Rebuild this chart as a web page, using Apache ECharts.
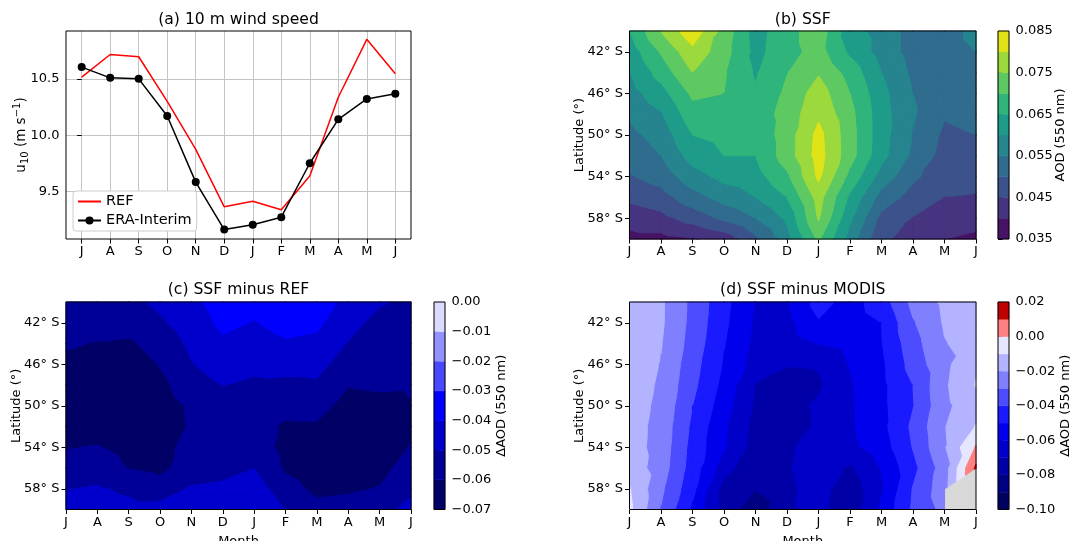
<!DOCTYPE html>
<html><head><meta charset="utf-8">
<script src="https://cdn.jsdelivr.net/npm/echarts@6/dist/echarts.min.js"></script>
<style>html,body{margin:0;padding:0;background:#fff}#c{width:1070px;height:541px}</style>
</head><body><div id="c"></div>
<script>
// ---------------- data ----------------
const months = ['J','A','S','O','N','D','J','F','M','A','M','J'];
const monthIdx = [0,1,2,3,4,5,6,7,8,9,10,11];
const refWind = [10.515,10.716,10.696,10.30,9.875,9.366,9.416,9.34,9.639,10.337,10.85,10.545];
const eraWind = [10.604,10.509,10.50,10.171,9.585,9.165,9.207,9.274,9.752,10.141,10.322,10.367];
const windTicks = [9.5,10.0,10.5];

const lats = [-40,-42,-44,-46,-48,-50,-52,-54,-56,-58,-60];
const latTicks = [-42,-46,-50,-54,-58];

// (b) SSF AOD, rows = lats, cols = months
const ssfAOD = [
 [0.0648,0.0752,0.0835,0.0730,0.0630,0.0680,0.0730,0.0620,0.0580,0.0530,0.0520,0.0570],
 [0.0622,0.0705,0.0785,0.0720,0.0635,0.0680,0.0720,0.0640,0.0580,0.0530,0.0520,0.0550],
 [0.0598,0.0670,0.0750,0.0705,0.0645,0.0698,0.0745,0.0680,0.0600,0.0540,0.0525,0.0530],
 [0.0580,0.0630,0.0710,0.0700,0.0655,0.0710,0.0775,0.0700,0.0615,0.0550,0.0520,0.0515],
 [0.0557,0.0595,0.0680,0.0675,0.0670,0.0720,0.0790,0.0715,0.0620,0.0555,0.0505,0.0515],
 [0.0537,0.0570,0.0650,0.0665,0.0660,0.0725,0.0815,0.0720,0.0620,0.0548,0.0490,0.0500],
 [0.0516,0.0550,0.0620,0.0650,0.0650,0.0725,0.0820,0.0720,0.0615,0.0540,0.0480,0.0480],
 [0.0496,0.0520,0.0580,0.0615,0.0630,0.0690,0.0810,0.0685,0.0580,0.0510,0.0470,0.0470],
 [0.0462,0.0480,0.0530,0.0570,0.0600,0.0650,0.0770,0.0640,0.0530,0.0480,0.0450,0.0445],
 [0.0418,0.0435,0.0470,0.0510,0.0550,0.0610,0.0755,0.0610,0.0485,0.0448,0.0425,0.0425],
 [0.0385,0.0385,0.0395,0.0420,0.0490,0.0580,0.0710,0.0580,0.0455,0.0440,0.0400,0.0385]
];
// (c) SSF minus REF
const ssfMinusRef = [
 [-0.055,-0.054,-0.0525,-0.048,-0.042,-0.036,-0.037,-0.034,-0.035,-0.043,-0.049,-0.052],
 [-0.057,-0.057,-0.056,-0.0515,-0.045,-0.038,-0.0405,-0.037,-0.038,-0.047,-0.053,-0.054],
 [-0.059,-0.0605,-0.0615,-0.056,-0.048,-0.0415,-0.044,-0.041,-0.0425,-0.0505,-0.056,-0.056],
 [-0.062,-0.064,-0.065,-0.0595,-0.0505,-0.046,-0.048,-0.047,-0.047,-0.055,-0.058,-0.058],
 [-0.064,-0.066,-0.067,-0.063,-0.054,-0.0498,-0.0515,-0.052,-0.0515,-0.0595,-0.0585,-0.059],
 [-0.065,-0.066,-0.067,-0.065,-0.0585,-0.053,-0.054,-0.057,-0.056,-0.064,-0.063,-0.0605],
 [-0.064,-0.064,-0.066,-0.065,-0.059,-0.056,-0.056,-0.0615,-0.0615,-0.066,-0.065,-0.062],
 [-0.0605,-0.0595,-0.063,-0.063,-0.057,-0.057,-0.055,-0.063,-0.065,-0.067,-0.065,-0.0595],
 [-0.057,-0.055,-0.0605,-0.0625,-0.055,-0.055,-0.0502,-0.0615,-0.066,-0.066,-0.063,-0.056],
 [-0.0505,-0.049,-0.052,-0.056,-0.049,-0.047,-0.045,-0.056,-0.0625,-0.0615,-0.0595,-0.052],
 [-0.046,-0.045,-0.047,-0.046,-0.044,-0.045,-0.0395,-0.0505,-0.057,-0.056,-0.054,-0.047]
];
// (d) SSF minus MODIS (null = no data)
const ssfMinusModis = [
 [-0.013,-0.0185,-0.0325,-0.047,-0.0605,-0.061,-0.046,-0.054,-0.045,-0.027,-0.018,-0.015],
 [-0.013,-0.0185,-0.033,-0.048,-0.0615,-0.063,-0.051,-0.055,-0.050,-0.031,-0.019,-0.015],
 [-0.0135,-0.0195,-0.034,-0.0495,-0.0625,-0.065,-0.0598,-0.057,-0.0505,-0.034,-0.0205,-0.016],
 [-0.014,-0.0205,-0.036,-0.051,-0.0645,-0.0695,-0.069,-0.0595,-0.052,-0.036,-0.0225,-0.011],
 [-0.0145,-0.0215,-0.0375,-0.053,-0.0705,-0.074,-0.0715,-0.061,-0.0525,-0.040,-0.0215,-0.0095],
 [-0.015,-0.0225,-0.040,-0.0555,-0.0715,-0.0735,-0.0685,-0.0615,-0.0525,-0.0405,-0.0225,-0.013],
 [-0.0155,-0.0235,-0.042,-0.0585,-0.0735,-0.075,-0.0685,-0.0615,-0.053,-0.038,-0.0205,-0.0095],
 [-0.0155,-0.024,-0.0435,-0.059,-0.0745,-0.0715,-0.066,-0.0625,-0.055,-0.0395,-0.021,0.001],
 [-0.014,-0.025,-0.0445,-0.0655,-0.0785,-0.071,-0.065,-0.0715,-0.0595,-0.043,-0.025,0.012],
 [-0.0095,-0.028,-0.047,-0.074,-0.0795,-0.072,-0.066,-0.076,-0.0615,-0.0395,-0.024,null],
 [-0.008,-0.0305,-0.052,-0.0735,-0.087,-0.0715,-0.067,-0.0765,-0.058,-0.0385,-0.027,null]
];

const levelsB = [0.035,0.040,0.045,0.050,0.055,0.060,0.065,0.070,0.075,0.080,0.085];
const colorsB = ['#471365','#463480','#3b528b','#2f6c8e','#25848e','#1e9c89','#2fb47c','#5ec962','#9bd93c','#dfe318'];
const ticksB = [0.035,0.045,0.055,0.065,0.075,0.085];

const levelsC = [-0.07,-0.06,-0.05,-0.04,-0.03,-0.02,-0.01,0.00];
const colorsC = ['#000066','#000099','#0000cc','#0000ff','#4949ff','#9292ff','#dbdbff'];
const ticksC = [-0.07,-0.06,-0.05,-0.04,-0.03,-0.02,-0.01,0.00];

const levelsD = [-0.10,-0.09,-0.08,-0.07,-0.06,-0.05,-0.04,-0.03,-0.02,-0.01,0.00,0.01,0.02];
const colorsD = ['#00005e','#000082','#0000a6','#0000c9','#0000ed','#1a1aff','#4d4dff','#8080ff','#b3b3ff','#e6e6ff','#ff8080','#bf0000'];
const ticksD = [-0.10,-0.08,-0.06,-0.04,-0.02,0.00,0.02];

// ---------------- helpers ----------------
const FONT = 'DejaVu Sans';
const fmt2 = v => (Math.abs(v) < 1e-9 ? '0.00' : (v < 0 ? '\u2212' : '') + Math.abs(v).toFixed(2));
const fmt3 = v => v.toFixed(3);

function clipPoly(poly, level, keepAbove) {
  const out = [];
  for (let i = 0; i < poly.length; i++) {
    const a = poly[i], b = poly[(i + 1) % poly.length];
    const ina = keepAbove ? a[2] >= level : a[2] <= level;
    const inb = keepAbove ? b[2] >= level : b[2] <= level;
    if (ina) out.push(a);
    if (ina !== inb) {
      const t = (level - a[2]) / (b[2] - a[2]);
      out.push([a[0] + t * (b[0] - a[0]), a[1] + t * (b[1] - a[1]), level]);
    }
  }
  return out;
}

function contourSeries(idx, grid, levels, colors) {
  const items = [];
  for (let k = 0; k < lats.length - 1; k++)
    for (let i = 0; i < months.length - 1; i++)
      items.push([i, lats[k], i + 1, lats[k + 1], i, k]);
  return {
    type: 'custom', xAxisIndex: idx, yAxisIndex: idx, data: items,
    encode: { x: [0, 2], y: [1, 3] }, silent: true, animation: false, z: 2,
    renderItem(params, api) {
      const i = api.value(4), k = api.value(5);
      const x0 = i, x1 = i + 1, y0 = lats[k], y1 = lats[k + 1];
      const v00 = grid[k][i], v10 = grid[k][i + 1], v01 = grid[k + 1][i], v11 = grid[k + 1][i + 1];
      const tris = [[[x0, y0, v00], [x1, y0, v10], [x0, y1, v01]],
                    [[x1, y0, v10], [x1, y1, v11], [x0, y1, v01]]];
      const children = [];
      for (const t of tris) {
        if (t.some(p => p[2] == null || isNaN(p[2]))) continue;
        const vs = t.map(p => p[2]);
        const mn = Math.min(...vs), mx = Math.max(...vs);
        for (let b = 0; b < colors.length; b++) {
          if (mx < levels[b] || mn > levels[b + 1]) continue;
          let poly = clipPoly(t, levels[b], true);
          if (poly.length < 3) continue;
          poly = clipPoly(poly, levels[b + 1], false);
          if (poly.length < 3) continue;
          children.push({
            type: 'polygon',
            shape: { points: poly.map(p => api.coord([p[0], p[1]])) },
            style: { fill: colors[b], stroke: colors[b], lineWidth: 1.1, lineJoin: 'round' }
          });
        }
      }
      return { type: 'group', children };
    }
  };
}

function colorbarSeries(idx, levels, colors) {
  return {
    type: 'custom', xAxisIndex: idx, yAxisIndex: idx, silent: true, animation: false,
    data: colors.map((c, b) => [0, levels[b], 1, levels[b + 1], b]),
    encode: { x: [0, 2], y: [1, 3] },
    renderItem(params, api) {
      const p0 = api.coord([api.value(0), api.value(1)]);
      const p1 = api.coord([api.value(2), api.value(3)]);
      const c = colors[api.value(4)];
      return { type: 'rect', shape: { x: p0[0], y: p1[1], width: p1[0] - p0[0], height: p0[1] - p1[1] },
               style: { fill: c, stroke: c, lineWidth: 0.5 } };
    }
  };
}

const tick = { show: true, inside: false, length: 4.5, lineStyle: { color: '#000', width: 1 } };
const lbl = { color: '#000', fontSize: 13, fontFamily: FONT, margin: 6.5 };
const nameStyle = { color: '#000', fontSize: 13, fontFamily: FONT };

const gridBase = { show: true, z: 10, borderColor: '#000', borderWidth: 1, backgroundColor: 'transparent',
  containLabel: false, outerBoundsMode: 'none' };
const grids = [
  { ...gridBase, left: 66, top: 31, width: 345, height: 208 },
  { ...gridBase, left: 629.5, top: 31, width: 346.5, height: 208 },
  { ...gridBase, left: 66, top: 302, width: 345, height: 207.5 },
  { ...gridBase, left: 629.5, top: 302, width: 346.5, height: 207.5 },
  { ...gridBase, left: 998, top: 31, width: 11, height: 208 },
  { ...gridBase, left: 434, top: 302, width: 11, height: 207.5 },
  { ...gridBase, left: 998, top: 302, width: 11, height: 207.5 }
];

function monthAxis(g, withName) {
  const ax = { type: 'value', gridIndex: g, min: 0, max: 11, interval: 1,
    axisLine: { show: false }, axisTick: tick, splitLine: { show: false },
    axisLabel: { ...lbl, formatter: v => months[v] }, nameMoveOverlap: false };
  if (withName) Object.assign(ax, { name: 'Month', nameLocation: 'middle', nameGap: 26, nameTextStyle: nameStyle });
  return ax;
}
function latAxis(g) {
  return { type: 'value', gridIndex: g, min: -60, max: -40,
    axisLine: { show: false }, splitLine: { show: false },
    axisTick: { ...tick, customValues: latTicks },
    axisLabel: { ...lbl, customValues: latTicks, formatter: v => Math.abs(v) + '° S' },
    name: 'Latitude (°)', nameLocation: 'middle', nameGap: 43, nameRotate: 90, nameMoveOverlap: false, nameTextStyle: nameStyle };
}
function cbXAxis(g) { return { type: 'value', gridIndex: g, min: 0, max: 1, show: false }; }
function cbYAxis(g, levels, ticks, fmt, name, gap) {
  return { type: 'value', gridIndex: g, position: 'right', min: levels[0], max: levels[levels.length - 1],
    axisLine: { show: false }, splitLine: { show: false },
    axisTick: { ...tick, customValues: ticks },
    axisLabel: { ...lbl, customValues: ticks, formatter: fmt },
    name, nameLocation: 'middle', nameGap: gap, nameRotate: 90, nameMoveOverlap: false, nameTextStyle: nameStyle };
}

const gridLine = { show: true, lineStyle: { color: '#c4c4c4', width: 1 } };

const option = {
  animation: false,
  backgroundColor: '#ffffff',
  textStyle: { fontFamily: FONT },
  grid: grids,
  xAxis: [
    { type: 'value', gridIndex: 0, min: -0.55, max: 11.55,
      axisLine: { show: false }, splitLine: gridLine,
      axisTick: { ...tick, customValues: monthIdx },
      axisLabel: { ...lbl, customValues: monthIdx, formatter: v => months[v] } },
    monthAxis(1, false), monthAxis(2, true), monthAxis(3, true),
    cbXAxis(4), cbXAxis(5), cbXAxis(6)
  ],
  yAxis: [
    { type: 'value', gridIndex: 0, min: 9.081, max: 10.924,
      axisLine: { show: false }, splitLine: gridLine,
      axisTick: { ...tick, customValues: windTicks },
      axisLabel: { ...lbl, customValues: windTicks, formatter: v => v.toFixed(1) },
      name: '{n|u}{sub|10}{n| (m s}{sup|\u22121}{n|)}', nameLocation: 'middle', nameGap: 36, nameRotate: 90,
      nameMoveOverlap: false,
      nameTextStyle: { ...nameStyle, rich: {
        n: { fontSize: 13.5, fontFamily: FONT, color: '#000', lineHeight: 18, verticalAlign: 'middle' },
        sub: { fontSize: 10, fontFamily: FONT, color: '#000', lineHeight: 12, verticalAlign: 'bottom' },
        sup: { fontSize: 10, fontFamily: FONT, color: '#000', lineHeight: 12, verticalAlign: 'top' } } } },
    latAxis(1), latAxis(2), latAxis(3),
    cbYAxis(4, levelsB, ticksB, fmt3, 'AOD (550 nm)', 45.5),
    cbYAxis(5, levelsC, ticksC, fmt2, '\u0394AOD (550 nm)', 50),
    cbYAxis(6, levelsD, ticksD, fmt2, '\u0394AOD (550 nm)', 50)
  ],
  legend: {
    data: ['REF', 'ERA-Interim'], orient: 'vertical', left: 73, top: 191, z: 20,
    itemWidth: 23, itemHeight: 10, itemGap: 4, padding: [3, 5, 3, 4],
    backgroundColor: '#ffffff', borderColor: '#cccccc', borderWidth: 1, borderRadius: 3,
    selectedMode: false, textStyle: { fontSize: 14.5, color: '#000', fontFamily: FONT }
  },
  graphic: [
    { type: 'text', x: 238.5, y: 19.5, style: { text: '(a) 10 m wind speed', fontSize: 15.6, fontFamily: FONT, fill: '#000', align: 'center', verticalAlign: 'middle' } },
    { type: 'text', x: 802.75, y: 19.5, style: { text: '(b) SSF', fontSize: 15.6, fontFamily: FONT, fill: '#000', align: 'center', verticalAlign: 'middle' } },
    { type: 'text', x: 238.5, y: 290, style: { text: '(c) SSF minus REF', fontSize: 15.6, fontFamily: FONT, fill: '#000', align: 'center', verticalAlign: 'middle' } },
    { type: 'text', x: 802.75, y: 290, style: { text: '(d) SSF minus MODIS', fontSize: 15.6, fontFamily: FONT, fill: '#000', align: 'center', verticalAlign: 'middle' } }
  ],
  series: [
    { type: 'line', name: 'REF', xAxisIndex: 0, yAxisIndex: 0, data: refWind.map((v, i) => [i, v]),
      symbol: 'none', lineStyle: { color: '#ff0000', width: 1.5, opacity: 1 }, itemStyle: { color: '#ff0000', opacity: 0 }, z: 3 },
    { type: 'line', name: 'ERA-Interim', xAxisIndex: 0, yAxisIndex: 0, data: eraWind.map((v, i) => [i, v]),
      symbol: 'circle', symbolSize: 8, showSymbol: true, lineStyle: { color: '#000', width: 1.5 }, itemStyle: { color: '#000' }, z: 4 },
    contourSeries(1, ssfAOD, levelsB, colorsB),
    contourSeries(2, ssfMinusRef, levelsC, colorsC),
    { type: 'custom', xAxisIndex: 3, yAxisIndex: 3, data: [[0, -40, 11, -60]], encode: { x: [0, 2], y: [1, 3] },
      silent: true, animation: false, z: 1,
      renderItem(params, api) {
        const cs = params.coordSys;
        return { type: 'rect', shape: { x: cs.x, y: cs.y, width: cs.width, height: cs.height }, style: { fill: '#d9d9d9' } };
      } },
    contourSeries(3, ssfMinusModis, levelsD, colorsD),
    colorbarSeries(4, levelsB, colorsB),
    colorbarSeries(5, levelsC, colorsC),
    colorbarSeries(6, levelsD, colorsD)
  ]
};

const chart = echarts.init(document.getElementById('c'), null, { renderer: 'canvas', width: 1070, height: 541 });
chart.setOption(option);
</script>
</body></html>
